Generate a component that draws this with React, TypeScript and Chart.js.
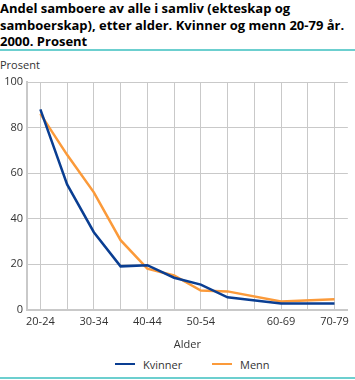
import React, { useEffect, useRef } from "react";
import { Chart, registerables } from "chart.js";

Chart.register(...registerables);

const categories = ["20-24", "25-29", "30-34", "35-39", "40-44", "45-49", "50-54", "55-59", "", "60-69", "", "70-79"];
const shownTicks = ["20-24", "30-34", "40-44", "50-54", "60-69", "70-79"];
const kvinner = [88, 55, 34, 19, 19.5, 14, 11, 5.4, null, 2.7, null, 2.7];
const menn = [86, 68, 51.5, 30.5, 18, 15, 8.4, 8, null, 3.6, null, 4.5];
const yTicks = [0, 20, 40, 60, 80, 100];
const seriesNames = ["Kvinner", "Menn"];

const BLUE = "#0a3e92";
const ORANGE = "#fb9a3a";
const GRID = "#c9c9c9";
const TEXT = "#333333";
const FONT = "'Open Sans', 'DejaVu Sans', sans-serif";

export default function App() {
  const ref = useRef<HTMLCanvasElement>(null);
  useEffect(() => {
    document.body.style.margin = "0";
    const chart = new Chart(ref.current!, {
      type: "line",
      data: {
        labels: categories,
        datasets: [
          { label: seriesNames[0], data: kvinner, borderColor: BLUE, backgroundColor: BLUE, borderWidth: 2.5, pointRadius: 0, spanGaps: true, tension: 0 },
          { label: seriesNames[1], data: menn, borderColor: ORANGE, backgroundColor: ORANGE, borderWidth: 2.5, pointRadius: 0, spanGaps: true, tension: 0 },
        ],
      },
      options: {
        animation: false,
        responsive: false,
        maintainAspectRatio: false,
        layout: { padding: { top: 30, right: 4, left: 0, bottom: 1 } },
        plugins: {
          legend: { display: false },
          tooltip: { enabled: false },
        },
        scales: {
          x: {
            offset: true,
            grid: { offset: false, color: GRID, lineWidth: 1, drawTicks: false },
            border: { color: GRID, width: 2 },
            ticks: {
              autoSkip: false,
              maxRotation: 0,
              padding: 6,
              color: TEXT,
              font: { family: FONT, size: 11 },
              callback: (_v: any, i: number) => (shownTicks.includes(categories[i]) ? categories[i] : ""),
            },
            title: { display: true, text: "Alder", color: TEXT, font: { family: FONT, size: 11 }, padding: { top: 3, bottom: 0 } },
          },
          y: {
            min: 0,
            max: 100,
            afterBuildTicks: (s: any) => { s.ticks = yTicks.map((v) => ({ value: v })); },
            afterFit: (s: any) => { s.width = 27; },
            grid: { color: GRID, lineWidth: 1, drawTicks: false },
            border: { color: GRID, width: 2 },
            ticks: { padding: 4, color: TEXT, font: { family: FONT, size: 11 } },
          },
        },
      },
    });
    return () => chart.destroy();
  }, []);

  const legendItem = (name: string, color: string, left: number) => (
    <div style={{ position: "absolute", left, top: 356, height: 16, display: "flex", alignItems: "center", fontSize: 11, color: TEXT }}>
      <span style={{ display: "inline-block", width: 20, height: 2.5, background: color, marginRight: 8 }} />
      {name}
    </div>
  );

  return (
    <div style={{ position: "relative", width: 355, height: 380, background: "#fff", fontFamily: FONT, color: "#000" }}>
      <div style={{ position: "absolute", left: 0, top: 0, fontWeight: 700, fontSize: 13, lineHeight: "16.5px", whiteSpace: "nowrap", color: "#000" }}>
        Andel samboere av alle i samliv (ekteskap og<br />
        samboerskap), etter alder. Kvinner og menn 20-79 år.<br />
        2000. Prosent
      </div>
      <div style={{ position: "absolute", left: 0, top: 49, width: 355, height: 2, background: "#6ccfcf" }} />
      <div style={{ position: "absolute", left: 0, top: 57, fontSize: 11, color: TEXT }}>Prosent</div>
      <canvas ref={ref} width={355} height={300} style={{ position: "absolute", left: 0, top: 52, width: 355, height: 300 }} />
      {legendItem(seriesNames[0], BLUE, 115)}
      {legendItem(seriesNames[1], ORANGE, 212)}
      <div style={{ position: "absolute", left: 0, top: 377, width: 355, height: 2, background: "#6ccfcf" }} />
    </div>
  );
}
